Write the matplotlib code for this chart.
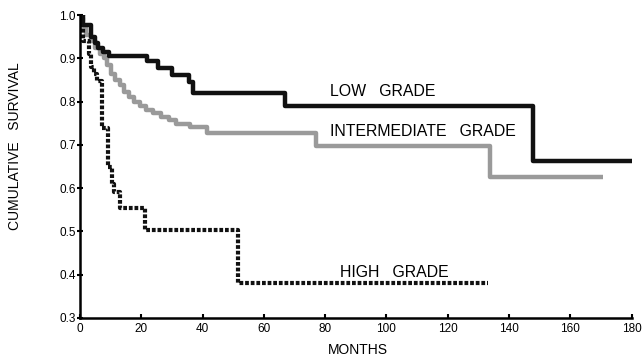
import matplotlib
matplotlib.use("Agg")
import matplotlib.pyplot as plt

plt.rcParams["font.family"] = ["Liberation Sans", "DejaVu Sans"]

# Kaplan-Meier steps (months, cumulative survival)
low_t = [0, 1, 3.5, 5, 6, 7.5, 9.5, 22, 25.5, 30, 35.5, 37, 67, 147.7, 180]
low_s = [1.0, 0.977, 0.95, 0.935, 0.925, 0.915, 0.905, 0.895, 0.878, 0.862, 0.845, 0.82, 0.79, 0.663, 0.663]

mid_t = [0, 0.8, 2, 3.5, 5, 6.5, 8, 9, 10, 11.5, 13, 14.5, 16, 17.5, 19.5, 21.5, 24,
         26.5, 29, 31.5, 36, 41.5, 77, 133.7, 170.5]
mid_s = [1.0, 0.97, 0.955, 0.94, 0.925, 0.91, 0.90, 0.885, 0.865, 0.85, 0.838, 0.822, 0.81,
         0.80, 0.79, 0.78, 0.773, 0.765, 0.758, 0.748, 0.742, 0.727, 0.698, 0.626, 0.626]

high_t = [0, 1, 3, 3.5, 4.5, 5.5, 7.2, 9.2, 10.5, 11.2, 13.2, 21.2, 51.5, 133]
high_s = [1.0, 0.94, 0.91, 0.88, 0.865, 0.848, 0.74, 0.65, 0.61, 0.59, 0.555, 0.503, 0.38, 0.38]

x_ticks = [0, 20, 40, 60, 80, 100, 120, 140, 160, 180]
y_ticks = [0.3, 0.4, 0.5, 0.6, 0.7, 0.8, 0.9, 1.0]

fig = plt.figure(figsize=(6.44, 3.6), dpi=100)
ax = fig.add_axes([0.124, 0.117, 0.857, 0.841])

ax.step(mid_t, mid_s, where="post", color="#9a9a9a", linewidth=3.2, solid_capstyle="butt")
ax.step(low_t, low_s, where="post", color="#111111", linewidth=3.2, solid_capstyle="butt")
ax.step(high_t, high_s, where="post", color="#111111", linewidth=3.0,
        dashes=(0.9, 0.45), dash_capstyle="butt")

ax.text(81.5, 0.823, "LOW   GRADE", fontsize=11.4, va="center", ha="left")
ax.text(81.5, 0.731, "INTERMEDIATE   GRADE", fontsize=11.4, va="center", ha="left")
ax.text(85, 0.405, "HIGH   GRADE", fontsize=11.4, va="center", ha="left")

ax.set_xlim(0, 180)
ax.set_ylim(0.3, 1.0)
ax.set_xticks(x_ticks)
ax.set_yticks(y_ticks)
ax.set_yticklabels([f"{v:.1f}" for v in y_ticks])
ax.tick_params(axis="both", labelsize=8.5, width=1.5, length=4, pad=1)
ax.tick_params(axis="y", direction="inout")
ax.tick_params(axis="x", direction="in", length=3, pad=4)

ax.spines["top"].set_visible(False)
ax.spines["right"].set_visible(False)
ax.spines["left"].set_linewidth(1.8)
ax.spines["bottom"].set_linewidth(1.8)

fig.text(0.555, 0.028, "MONTHS", fontsize=10, ha="center", va="center")
fig.text(0.024, 0.595, "CUMULATIVE   SURVIVAL", fontsize=10, ha="center", va="center",
         rotation=90)

fig.savefig("out.png", dpi=100)
plt.close(fig)
